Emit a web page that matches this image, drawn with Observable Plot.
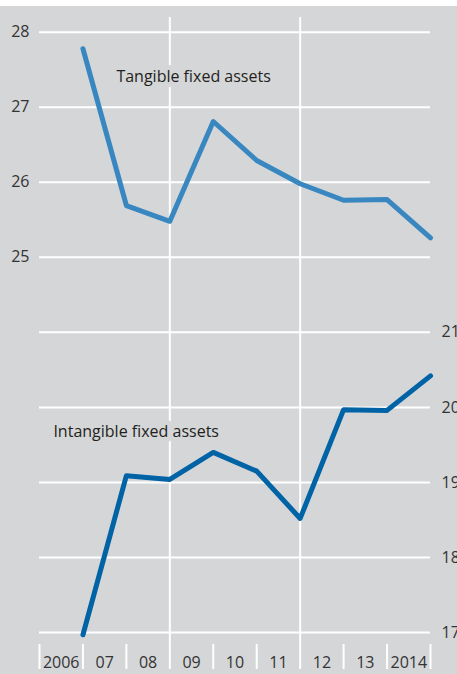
<!DOCTYPE html>
<html>
<head>
<meta charset="utf-8">
<script src="https://cdn.jsdelivr.net/npm/d3@7"></script>
<script src="https://cdn.jsdelivr.net/npm/@observablehq/plot@0.6"></script>
<style>
  html, body { margin: 0; padding: 0; background: #ffffff; }
  #chart svg { display: block; margin-top: 6px; }
</style>
</head>
<body>
<div id="chart"></div>
<script>
// Data
const years = [2006, 2007, 2008, 2009, 2010, 2011, 2012, 2013, 2014];
const yearLabels = ["2006", "07", "08", "09", "10", "11", "12", "13", "2014"];
const tangible = [27.78, 25.69, 25.48, 26.81, 26.29, 25.98, 25.76, 25.77, 25.26];       // left axis
const intangible = [16.97, 19.09, 19.04, 19.40, 19.15, 18.52, 19.97, 19.96, 20.42];     // right axis
const leftTicks = [25, 26, 27, 28];
const rightTicks = [17, 18, 19, 20, 21];
const rightOffset = 3; // right-axis value + 3 = left-axis position
const gridValues = [20, 21, 22, 23, 24, 25, 26, 27, 28];
const verticalGrid = [2008, 2011];
const separators = [2005, 2006, 2007, 2008, 2009, 2010, 2011, 2012, 2013, 2014];
const seriesLabels = [
  {name: "Tangible fixed assets", year: 2006.77, value: 27.41},
  {name: "Intangible fixed assets", year: 2005.32, value: 22.67}
];

const bg = "#d5d6d8";
const tangibleRows = years.map((y, i) => ({year: y, value: tangible[i]}));
const intangibleRows = years.map((y, i) => ({year: y, value: intangible[i] + rightOffset}));
const labelMap = new Map(years.map((y, i) => [y - 0.5, yearLabels[i]]));

const chart = Plot.plot({
  width: 457,
  height: 668,
  marginTop: 11,
  marginBottom: 30,
  marginLeft: 39,
  marginRight: 27,
  style: {background: bg, fontFamily: "'Open Sans', sans-serif", color: "#333", fontSize: "15px"},
  x: {type: "linear", domain: [2005, 2014]},
  y: {domain: [20, 28], insetTop: 14.7, insetBottom: 12},
  marks: [
    Plot.ruleY(gridValues, {stroke: "white", strokeWidth: 2}),
    Plot.ruleX(verticalGrid, {stroke: "white", strokeWidth: 2}),
    Plot.text(seriesLabels, {
      x: "year", y: "value", text: "name", textAnchor: "start",
      fontSize: 16, fill: "#231f20", stroke: bg, strokeWidth: 10
    }),
    Plot.line(tangibleRows, {x: "year", y: "value", stroke: "#3887c0", strokeWidth: 5}),
    Plot.line(intangibleRows, {x: "year", y: "value", stroke: "#0063a6", strokeWidth: 5}),
    Plot.axisY(leftTicks, {anchor: "left", tickSize: 0, tickPadding: 10, fontSize: 16, fill: "#333", tickFormat: d => String(d), label: null}),
    Plot.axisY(rightTicks.map(d => d + rightOffset), {anchor: "right", tickSize: 0, tickPadding: 11, fontSize: 16, fill: "#333", tickFormat: d => String(d - rightOffset), label: null}),
    Plot.axisX(separators, {anchor: "bottom", tickSize: 25, stroke: "white", strokeWidth: 2, tickFormat: () => "", label: null}),
    Plot.axisX(years.map(y => y - 0.5), {anchor: "bottom", tickSize: 0, tickPadding: 12, fontSize: 16, fill: "#333", tickFormat: d => labelMap.get(d), label: null})
  ]
});
document.getElementById("chart").appendChild(chart);
</script>
</body>
</html>
